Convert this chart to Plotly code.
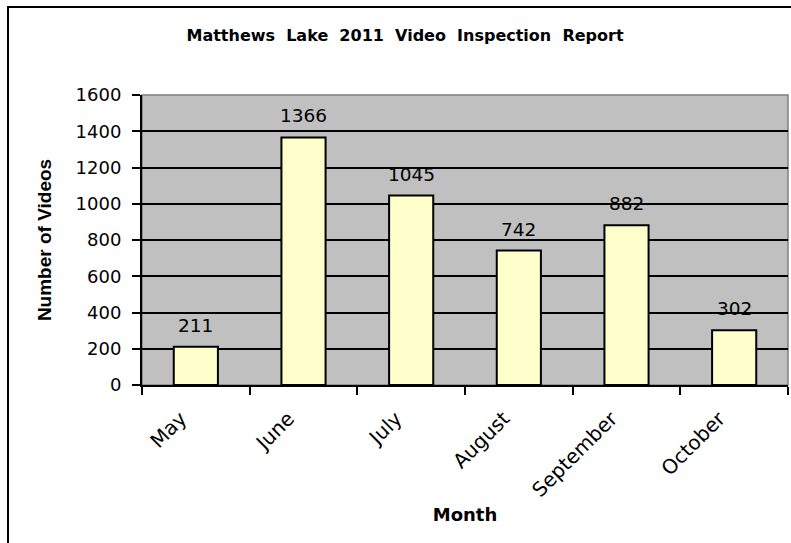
import plotly.graph_objects as go

months = ["May", "June", "July", "August", "September", "October"]
videos = [211, 1366, 1045, 742, 882, 302]
y_ticks = [0, 200, 400, 600, 800, 1000, 1200, 1400, 1600]

W, H = 791, 543
L, R, T, B = 142, 3, 95, 158
pw = W - L - R
ph = H - T - B

def px2x(x):
    return (x - L) / pw

def px2y(y):
    return (H - B - y) / ph

fig = go.Figure()
fig.add_trace(go.Bar(
    x=months, y=videos,
    marker=dict(color="#FFFFCC", line=dict(color="black", width=2)),
    hoverinfo="x+y",
))

for m, v in zip(months, videos):
    fig.add_annotation(x=m, y=v, text=str(v), showarrow=False,
                       yanchor="bottom", yshift=9,
                       font=dict(family="DejaVu Sans", size=18.5, color="black"))

fig.update_layout(
    width=W, height=H,
    margin=dict(l=L, r=R, t=T, b=B),
    paper_bgcolor="white", plot_bgcolor="#C0C0C0",
    bargap=0.59,
    showlegend=False,
    font=dict(family="DejaVu Sans", color="black"),
    title=dict(text="<b>Matthews  Lake  2011  Video  Inspection  Report</b>",
               x=px2x(405), xref="paper", xanchor="center",
               y=1 - 35 / H, yref="container", yanchor="middle",
               font=dict(size=16, family="DejaVu Sans", color="black")),
    xaxis=dict(
        tickangle=-45, tickfont=dict(size=20, family="DejaVu Sans"),
        showline=True, linecolor="black", linewidth=2,
        ticks="outside", ticklen=8, tickcolor="black", tickwidth=2,
        tickson="boundaries",
        ticklabelshift=-15, ticklabelstandoff=12,
        title=dict(text="<b>Month</b>", font=dict(size=18, family="DejaVu Sans"), standoff=8),
    ),
    yaxis=dict(
        range=[0, 1600], tickvals=y_ticks, tickfont=dict(size=18, family="DejaVu Sans"),
        showgrid=True, gridcolor="black", gridwidth=1.5,
        showline=True, linecolor="black", linewidth=2,
        ticks="outside", ticklen=8, tickcolor="black", tickwidth=2,
        ticklabelstandoff=7,
        title=dict(text="<b>Number of Videos</b>",
                   font=dict(size=19, family="Liberation Sans, Arial"), standoff=19),
        zeroline=False,
    ),
)

# plot-area outline (gray) and chart frame (black)
fig.add_shape(type="rect", xref="paper", yref="paper", x0=0, y0=0, x1=1, y1=1,
              line=dict(color="#808080", width=1.5), layer="below")
fig.add_shape(type="rect", xref="paper", yref="paper",
              x0=px2x(8), y0=px2y(560), x1=px2x(810), y1=px2y(7),
              line=dict(color="black", width=2), layer="above")

fig.write_html("out.html", config={"displayModeBar": False},
               post_script="document.body.style.margin='0px';")
